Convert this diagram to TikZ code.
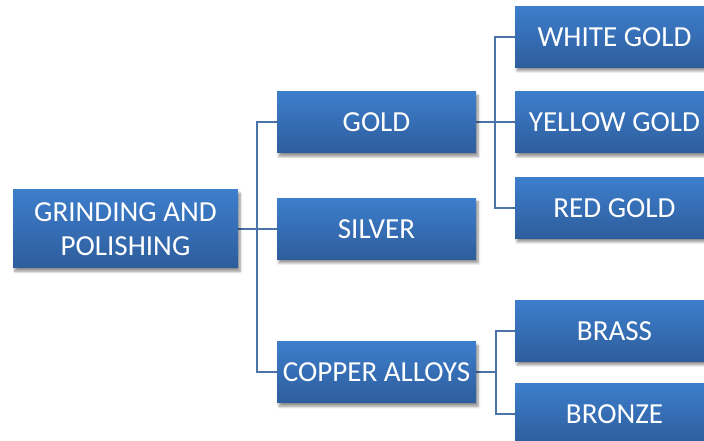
\documentclass[tikz,border=0pt]{standalone}
\usepackage{fontspec}
\setmainfont{Carlito}
\usetikzlibrary{shadows.blur,backgrounds}
\definecolor{boxtop}{HTML}{3D7ECC}
\definecolor{boxbot}{HTML}{2E5D9C}
\definecolor{linkcol}{HTML}{4B74AA}
\tikzset{
  item/.style={rectangle, top color=boxtop, bottom color=boxbot,
    minimum width=149.25pt, minimum height=45.75pt, inner sep=0pt,
    text=white, font=\fontsize{21.8}{25.5}\selectfont, align=center,
    blur shadow={shadow xshift=1.5pt, shadow yshift=-2.5pt, shadow blur steps=6, shadow opacity=45}},
  rootbox/.style={item, minimum width=168.75pt, minimum height=58.5pt},
  link/.style={draw=linkcol, line width=1.5pt}
}
\begin{document}
\begin{tikzpicture}[x=0.75pt, y=-0.75pt]
  \useasboundingbox (0,0) rectangle (704,441);
  \clip (0,0) rectangle (704,441);

  % boxes (coordinates in pixels, y pointing down)
  \node[rootbox] (root) at (125.5,229) {GRINDING AND\\POLISHING};
  \node[item] (gold)   at (376.5,122.5) {GOLD};
  \node[item] (silver) at (376.5,229)   {SILVER};
  \node[item] (copper) at (376.5,372.5) {COPPER ALLOYS};
  \node[item] (wg)     at (614.5,37)    {WHITE GOLD};
  \node[item] (yg)     at (614.5,122.5) {YELLOW GOLD};
  \node[item] (rg)     at (614.5,208)   {RED GOLD};
  \node[item] (brass)  at (614.5,331)   {BRASS};
  \node[item] (bronze) at (614.5,414)   {BRONZE};

  % vertical trunks of the three branchings
  \coordinate (ta) at (257,0);
  \coordinate (tb) at (495,0);
  \coordinate (tc) at (496,0);

  \begin{pgfonlayer}{background}
    \draw[link] (root.east) -- (root.east -| ta);
    \draw[link] (gold.west) -- (gold.west -| ta) -- (copper.west -| ta) -- (copper.west);
    \draw[link] (silver.west) -- (silver.west -| ta);
    \draw[link] (gold.east) -- (gold.east -| tb);
    \draw[link] (wg.west) -- (wg.west -| tb) -- (rg.west -| tb) -- (rg.west);
    \draw[link] (yg.west) -- (yg.west -| tb);
    \draw[link] (copper.east) -- (copper.east -| tc);
    \draw[link] (brass.west) -- (brass.west -| tc) -- (bronze.west -| tc) -- (bronze.west);
  \end{pgfonlayer}
\end{tikzpicture}
\end{document}
